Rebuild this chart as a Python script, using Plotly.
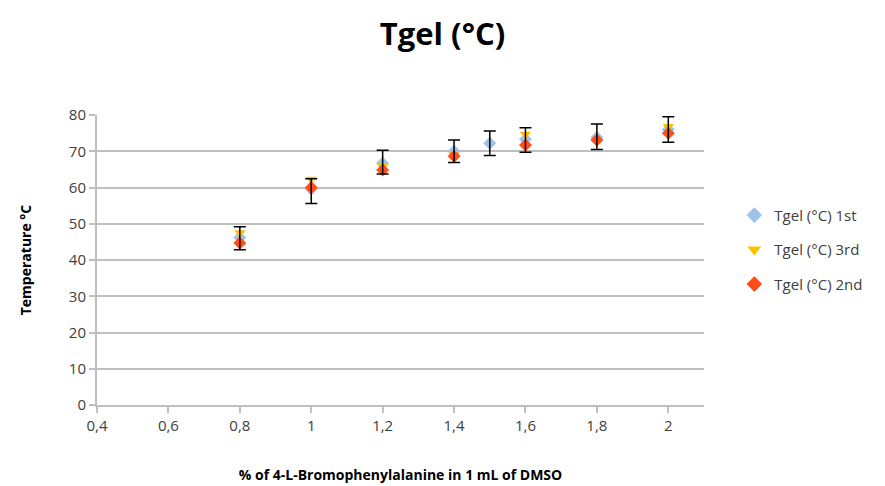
import plotly.graph_objects as go

x_all = [0.8, 1.0, 1.2, 1.4, 1.5, 1.6, 1.8, 2.0]
x_runs = [0.8, 1.0, 1.2, 1.4, 1.6, 1.8, 2.0]
tgel_1st = [46.2, 59.5, 66.7, 70.0, 72.2, 73.3, 73.8, 76.0]
tgel_3rd = [47.5, 62.3, 65.8, 69.0, 74.7, 72.6, 76.8]
tgel_2nd = [44.7, 60.0, 64.8, 68.6, 71.7, 73.1, 75.0]
mean_vals = [46.0, 59.0, 67.0, 70.0, 72.2, 73.1, 74.0, 76.0]
err_vals = [3.2, 3.4, 3.3, 3.1, 3.4, 3.4, 3.5, 3.5]

x_tick_vals = [0.4, 0.6, 0.8, 1.0, 1.2, 1.4, 1.6, 1.8, 2.0]
x_tick_text = ["0,4", "0,6", "0,8", "1", "1,2", "1,4", "1,6", "1,8", "2"]
y_tick_vals = [0, 10, 20, 30, 40, 50, 60, 70, 80]

FONT = "Open Sans, Lato, sans-serif"

fig = go.Figure()
fig.add_trace(go.Scatter(
    x=x_all, y=tgel_1st, mode="markers", name="Tgel (°C) 1st", legendgroup="a",
    marker=dict(symbol="diamond", size=10, color="#9DC3E6"),
))
fig.add_trace(go.Scatter(
    x=x_runs, y=tgel_3rd, mode="markers", name="Tgel (°C) 3rd", legendgroup="b",
    marker=dict(symbol="triangle-down", size=10, color="#FFC000"),
))
fig.add_trace(go.Scatter(
    x=x_runs, y=tgel_2nd, mode="markers", name="Tgel (°C) 2nd", legendgroup="c",
    marker=dict(symbol="diamond", size=10, color="#FF4E1A"),
))
fig.add_trace(go.Scatter(
    x=x_all, y=mean_vals, mode="markers", showlegend=False, hoverinfo="skip",
    marker=dict(size=1, color="rgba(0,0,0,0)"),
    error_y=dict(type="data", array=err_vals, visible=True,
                 color="#000000", thickness=1.5, width=6),
))

fig.update_layout(
    width=885, height=486,
    paper_bgcolor="white", plot_bgcolor="white",
    margin=dict(l=97, r=181, t=115, b=81),
    font=dict(family=FONT, color="#404040", size=15),
    title=dict(text="<b>Tgel (°C)</b>", x=0.5, xanchor="center",
               y=0.93, yanchor="middle",
               font=dict(family=FONT, size=31, color="#000000")),
    legend=dict(x=1.05, y=0.535, xanchor="left", yanchor="middle",
                font=dict(family=FONT, size=15, color="#404040"),
                traceorder="grouped",
                itemsizing="constant", itemwidth=30, tracegroupgap=12),
    xaxis=dict(
        range=[0.4, 2.1], tickvals=x_tick_vals, ticktext=x_tick_text,
        showgrid=False, zeroline=False, automargin=False,
        showline=True, linecolor="#BFBFBF", linewidth=2,
        ticks="outside", ticklen=6, tickcolor="#BFBFBF", tickwidth=2,
        tickfont=dict(family=FONT, size=15, color="#404040"),
        title=dict(text="<b>% of 4-L-Bromophenylalanine in 1 mL of DMSO</b>",
                   font=dict(family=FONT, size=14, color="#000000"), standoff=36),
    ),
    yaxis=dict(
        range=[0, 80], tickvals=y_tick_vals, automargin=False,
        showgrid=True, gridcolor="#BFBFBF", gridwidth=2, zeroline=False,
        showline=True, linecolor="#BFBFBF", linewidth=2,
        ticks="outside", ticklen=6, tickcolor="#BFBFBF", tickwidth=2,
        tickfont=dict(family=FONT, size=15, color="#404040"),
        title=dict(text="<b>Temperature °C</b>",
                   font=dict(family=FONT, size=14, color="#000000"), standoff=34),
    ),
)

fig.write_html("out.html")
